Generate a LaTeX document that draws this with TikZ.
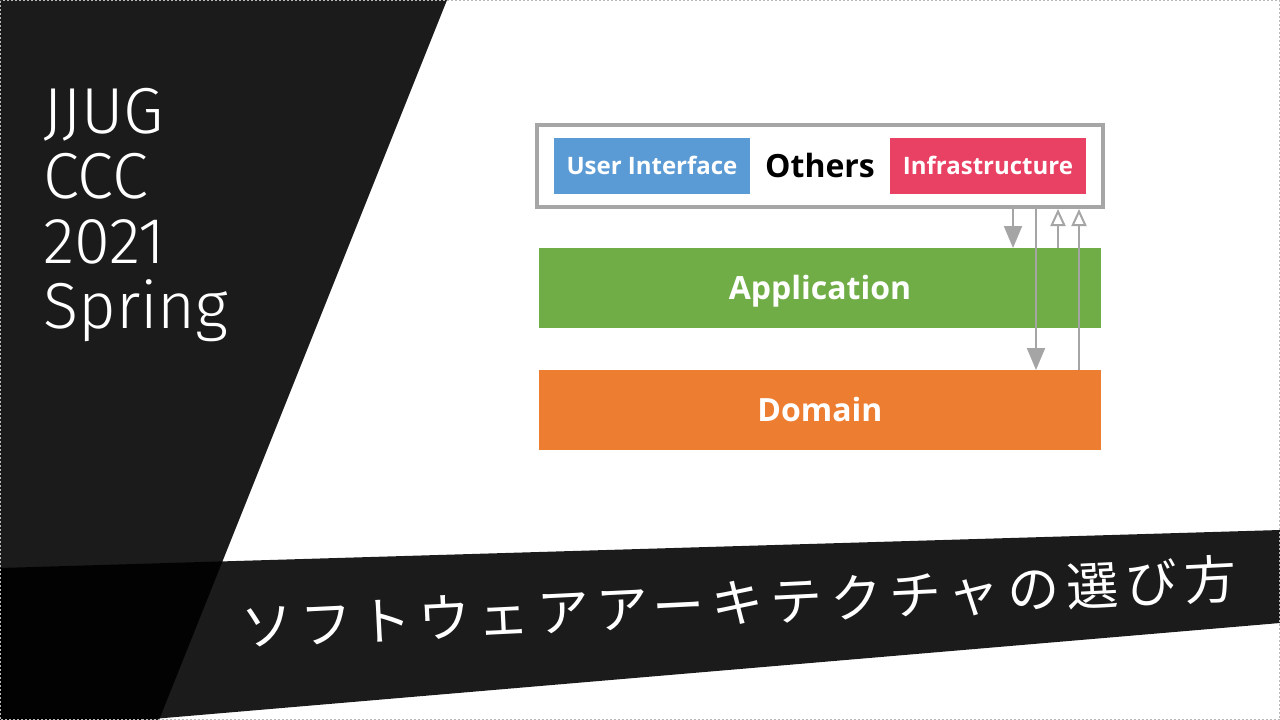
\documentclass[tikz,border=0pt]{standalone}
\usepackage{fontspec}
\setmainfont{Open Sans}
\newfontfamily\titlefont{Fira Sans Light}
\newfontfamily\jpfont[LetterSpace=14]{Noto Sans CJK JP}
\usetikzlibrary{arrows.meta,positioning}

\definecolor{uiblue}{HTML}{5B9BD5}
\definecolor{infrared}{HTML}{E94164}
\definecolor{appgreen}{HTML}{70AD47}
\definecolor{domorange}{HTML}{ED7D31}
\definecolor{ringgray}{HTML}{A6A6A6}
\definecolor{arrowgray}{HTML}{A5A5A5}

\begin{document}
\begin{tikzpicture}[
  x=1pt, y=-1pt,
  every node/.style={inner sep=0pt},
  ring/.style={draw=ringgray, line width=4pt, fill=white,
               minimum width=566pt, minimum height=82pt,
               text height=23pt, text depth=0pt,
               font=\bfseries\fontsize{32}{32}\selectfont},
  tag/.style={minimum width=196pt, minimum height=56pt, outer sep=0pt,
              text height=17pt, text depth=0pt,
              text=white, font=\bfseries\fontsize{24}{24}\selectfont},
  layer/.style={minimum width=562pt, minimum height=80pt, outer sep=0pt,
                text height=23pt, text depth=0pt,
                text=white, font=\bfseries\fontsize{32}{32}\selectfont},
  dep/.style={draw=arrowgray, line width=2pt,
              -{Triangle[length=22pt, width=18pt]}},
  impl/.style={draw=arrowgray, line width=2pt,
               -{Triangle[open, length=17pt, width=15pt, fill=white]}},
  slab/.style={fill=black, fill opacity=0.894},
]
\useasboundingbox (0,0) rectangle (1280,720);
\fill[white] (0,0) rectangle (1280,720);
\begin{scope}
\clip (0,0) rectangle (1280,720);

% dark slabs
\fill[slab] (0,0) -- (447,0) -- (159,720) -- (0,720) -- cycle;
\fill[slab] (0,568) -- (1280,530) -- (1280,623) -- (0,732) -- cycle;
\end{scope}

% titles
\node[anchor=north west, align=left, text=white,
      font=\titlefont\fontsize{65}{65}\selectfont] (conf) at (43,88)
  {JJUG\\CCC\\2021\\Spring};
\node[rotate=2.8, text=white, font=\jpfont\fontsize{52}{52}\selectfont]
  (topic) at (739,603) {ソフトウェアアーキテクチャの選び方};

% layers
\node[ring] (others) at (820,166) {Others};
\node[tag, fill=uiblue, right=19pt of others.west] (ui) {User Interface};
\node[tag, fill=infrared, left=19pt of others.east] (infra) {Infrastructure};
\node[layer, fill=appgreen, below=39pt of others] (app) {Application};
\node[layer, fill=domorange, below=42pt of app] (dom) {Domain};

% dependencies
\draw[dep] ([xshift=193pt]others.south) -- ([xshift=193pt]app.north);
\draw[dep] ([xshift=216pt]others.south) -- ([xshift=216pt]dom.north);
\draw[impl] ([xshift=238pt]app.north) -- ([xshift=238pt]others.south);
\draw[impl] ([xshift=259pt]dom.north) -- ([xshift=259pt]others.south);

% frame
\draw[gray!55, dash pattern=on 2pt off 2pt, line width=1pt]
  (0.5,0.5) rectangle (1279.5,719.5);
\end{tikzpicture}
\end{document}
